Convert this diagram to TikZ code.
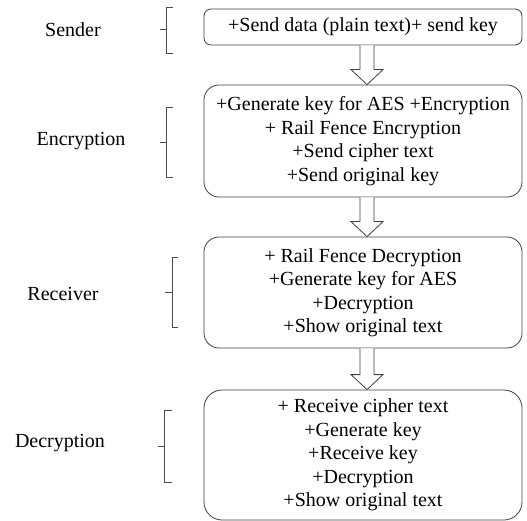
\documentclass[tikz,border=0pt]{standalone}
\usepackage{fontspec}
\setmainfont{Liberation Serif}
\usetikzlibrary{calc}
\begin{document}
\begin{tikzpicture}[x=1pt,y=-1pt,
  every node/.style={font=\rmfamily\fontsize{20}{23.5}\selectfont, text=black},
  stagebox/.style={draw=black!75, line width=0.8pt, fill=white,
    minimum width=318pt, inner sep=0pt, align=center},
  stagelabel/.style={inner sep=0pt},
  brk/.style={draw=black!70, line width=0.7pt},
  hollow/.style={draw=black!75, line width=0.8pt, fill=white, line join=miter}]
\fill[white] (0,0) rectangle (527,521);
\useasboundingbox (0,0) rectangle (527,521);

% process stages
\node[stagebox, rounded corners=7pt, minimum height=36pt] (send) at (363,27)
  {+Send data (plain text)+ send key};
\node[stagebox, rounded corners=15pt, minimum height=112pt] (enc) at (363,141)
  {+Generate key for AES +Encryption\\+ Rail Fence Encryption\\+Send cipher text\\+Send original key};
\node[stagebox, rounded corners=15pt, minimum height=111pt] (recv) at (363,292.5)
  {+ Rail Fence Decryption\\+Generate key for AES\\+Decryption\\+Show original text};
\node[stagebox, rounded corners=18pt, minimum height=130pt] (dec) at (363,455)
  {+ Receive cipher text\\+Generate key\\+Receive key\\+Decryption\\+Show original text};

% stage names
\node[stagelabel] (lsend) at (73,30) {Sender};
\node[stagelabel] (lenc) at (81,141) {Encryption};
\node[stagelabel] (lrecv) at (63,294) {Receiver};
\node[stagelabel] (ldec) at (60,443) {Decryption};

% brackets beside the stage names
\draw[brk] (173,7) -- (166,7) -- (166,53) -- (173,53) (166,29) -- (160,29);
\draw[brk] (173,107) -- (166,107) -- (166,177) -- (173,177) (166,142) -- (160,142);
\draw[brk] (178,257) -- (172,257) -- (172,327) -- (178,327) (172,292) -- (165,292);
\draw[brk] (172,410) -- (164,410) -- (164,482) -- (172,482) (164,446) -- (158,446);

% hollow block arrows between stages
\newcommand\hollowarrow[2]{%
  \draw[hollow] let \p1=($(#1.south)+(4,0)$), \p2=($(#2.north)+(4,0)$) in
    (\x1-7pt,\y1) -- (\x1-7pt,\y2+15pt) -- (\x1-16pt,\y2+15pt) -- (\x2,\y2)
    -- (\x1+16pt,\y2+15pt) -- (\x1+7pt,\y2+15pt) -- (\x1+7pt,\y1);}
\hollowarrow{send}{enc}
\hollowarrow{enc}{recv}
\hollowarrow{recv}{dec}
\end{tikzpicture}
\end{document}
